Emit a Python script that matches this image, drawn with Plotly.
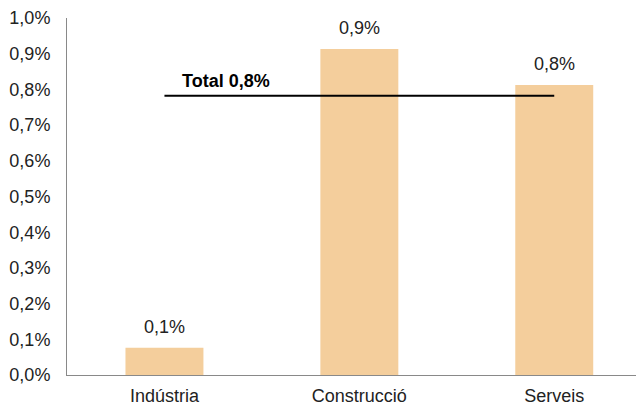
import plotly.graph_objects as go

categories = ["Indústria", "Construcció", "Serveis"]
values = [0.00076, 0.00913, 0.00812]
total = 0.00782
total_label = "Total 0,8%"

bar_color = "#F4CE9C"
font_family = "Liberation Sans, Arial, sans-serif"

x_idx = list(range(len(categories)))

fig = go.Figure()
fig.add_trace(go.Bar(
    x=x_idx, y=values, width=0.40,
    marker=dict(color=bar_color, line=dict(width=0)),
    hoverinfo="skip",
))
fig.add_trace(go.Scatter(
    x=[x_idx[0], x_idx[-1]], y=[total, total], mode="lines",
    line=dict(color="black", width=2), hoverinfo="skip",
))

for xi, v in zip(x_idx, values):
    fig.add_annotation(x=xi, y=v, text=f"{v*100:.1f}%".replace(".", ","),
                       showarrow=False, yanchor="bottom", yshift=9,
                       font=dict(size=18, color="#222222", family=font_family))

fig.add_annotation(x=0.08, y=total, text=f"<b>{total_label}</b>", showarrow=False,
                   xanchor="left", yanchor="bottom", yshift=3,
                   font=dict(size=18, color="black", family=font_family))

fig.update_layout(
    width=644, height=405,
    margin=dict(l=59, r=12, t=10, b=38, autoexpand=False),
    paper_bgcolor="white", plot_bgcolor="white",
    showlegend=False,
    separators=",.",
    font=dict(family=font_family, size=18, color="#222222"),
)
fig.update_xaxes(
    range=[-0.5, 2.44], tickmode="array", tickvals=x_idx, ticktext=categories,
    showgrid=False, zeroline=False, showline=True, linecolor="#898989", linewidth=1,
    ticks="", tickfont=dict(size=18, color="#222222"), ticklabelstandoff=4,
    automargin=False,
)
fig.update_yaxes(
    range=[0, 0.01], dtick=0.001, tickformat=".1%",
    showgrid=False, zeroline=False, showline=True, linecolor="#898989", linewidth=1,
    ticks="", tickfont=dict(size=18, color="#222222"), ticklabelstandoff=12,
    automargin=False,
)

fig.write_html("out.html")
